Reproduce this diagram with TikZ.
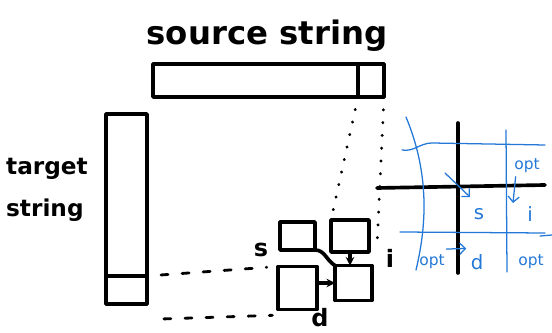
\documentclass[tikz,border=0pt]{standalone}
\usepackage{fontspec}
\setmainfont{DejaVu Sans}
\usetikzlibrary{positioning,arrows.meta}

\definecolor{inkblue}{RGB}{35,120,215}

\tikzset{
  pen/.style={line width=2.6pt, line cap=round, line join=round},
  cellbox/.style={draw, pen, inner sep=0pt, outer sep=0pt},
  dotline/.style={line width=2.2pt, line cap=round, dash pattern=on 0.1pt off 9pt},
  dashline/.style={line width=2pt, line cap=round, dash pattern=on 5pt off 10pt},
  bluepen/.style={draw=inkblue, line width=0.9pt, line cap=round},
  bluetext/.style={text=inkblue, inner sep=1pt},
  handtext/.style={inner sep=0pt, font=\bfseries},
}

\begin{document}
\begin{tikzpicture}[x=0.025cm, y=-0.025cm]
  \useasboundingbox (0,0) rectangle (552,333);

  % titles
  \node[handtext, font=\bfseries\fontsize{23}{25}\selectfont] (srclabel) at (267,36) {source string};
  \node[handtext, font=\bfseries\fontsize{16.5}{30}\selectfont, align=left] (tgtlabel) at (47,190) {target\\string};

  % source string with its last cell
  \node[cellbox, minimum width=5.775cm, minimum height=0.825cm] (srcbar) at (268.5,80.5) {};
  \node[cellbox, minimum width=0.65cm, minimum height=0.825cm] (srccell) at (371,80.5) {};

  % target string with its last cell
  \node[cellbox, minimum width=1.025cm, minimum height=4.75cm] (tgtbar) at (126.5,209) {};
  \node[cellbox, minimum width=1.025cm, minimum height=0.7cm] (tgtcell) at (126.5,290) {};

  % the four cells of the table
  \node[cellbox, minimum width=0.875cm, minimum height=0.7cm] (sqs) at (297.5,236) {};
  \node[cellbox, minimum width=0.95cm, minimum height=0.8cm] (sqi) at (350,236) {};
  \node[cellbox, minimum width=0.975cm, minimum height=1.075cm] (sqd) at (297.5,288) {};
  \node[cellbox, minimum width=0.925cm, minimum height=0.875cm] (cur) at (353.5,283) {};

  \node[handtext, font=\bfseries\fontsize{17}{19}\selectfont] (lbls) at (261,250) {s};
  \node[handtext, font=\bfseries\fontsize{17}{19}\selectfont] (lbli) at (390,258) {i};
  \node[handtext, font=\bfseries\fontsize{17}{19}\selectfont] (lbld) at (320,318) {d};

  % guide lines
  \coordinate (iend) at (377,246);
  \draw[dotline] (srccell.south west) -- (sqi.north west);
  \draw[dotline] (srccell.south east) -- (iend);
  \draw[dashline, shorten <=10pt, shorten >=8pt] (tgtcell.north east) -- (sqd.north west);
  \draw[dashline, shorten <=12pt, shorten >=4pt] ([yshift=-11pt]tgtcell.south east) -- ([yshift=-4pt]sqd.south west);

  % moves into the current cell
  \draw[pen] (sqs.south east) to[out=0, in=150] (cur.north west);
  \draw[pen, -{Stealth[length=6pt, width=6pt]}] (sqi.south) -- (sqi.south |- cur.north);
  \draw[pen, -{Stealth[length=6pt, width=6pt]}] (sqd.east |- cur.west) -- (cur.west);

  % blue sketch of the table
  \draw[line width=2.6pt, line cap=round] (377,188) -- (545,185);
  \draw[line width=2.6pt, line cap=round] (458,123) -- (458,273);
  \draw[bluepen] (402,150) to[out=-10, in=180] (432,143) -- (545,145);
  \draw[bluepen] (400,232) -- (545,233);
  \draw[bluepen] (540,236) -- (552,235);
  \draw[bluepen] (506,130) -- (507,272);
  \draw[bluepen] (406,117) .. controls (428,170) and (428,220) .. (416,270);

  \node[bluetext, font=\fontsize{14}{16}\selectfont] (bs) at (479,214) {s};
  \node[bluetext, font=\fontsize{14}{16}\selectfont] (bi) at (530,214) {i};
  \node[bluetext, font=\fontsize{14}{16}\selectfont] (bd) at (477,262) {d};
  \node[bluetext, font=\fontsize{11}{13}\selectfont] (optup) at (527,166) {opt};
  \node[bluetext, font=\fontsize{11}{13}\selectfont] (optleft) at (432,262) {opt};
  \node[bluetext, font=\fontsize{11}{13}\selectfont] (optright) at (531,262) {opt};

  \coordinate (diagstart) at (445,173);
  \coordinate (diagend) at (470,197);
  \coordinate (downend) at (513,203);
  \draw[bluepen, -{Straight Barb[length=4pt]}] (diagstart) -- (diagend);
  \draw[bluepen, -{Straight Barb[length=4pt]}] (optup.south west) ++(3,2) coordinate (downstart) -- (downend);
  \draw[bluepen, -{Straight Barb[length=4pt]}] ([yshift=3pt]optleft.north east) -- ([yshift=3pt, xshift=-2pt]bd.north west);
\end{tikzpicture}
\end{document}
